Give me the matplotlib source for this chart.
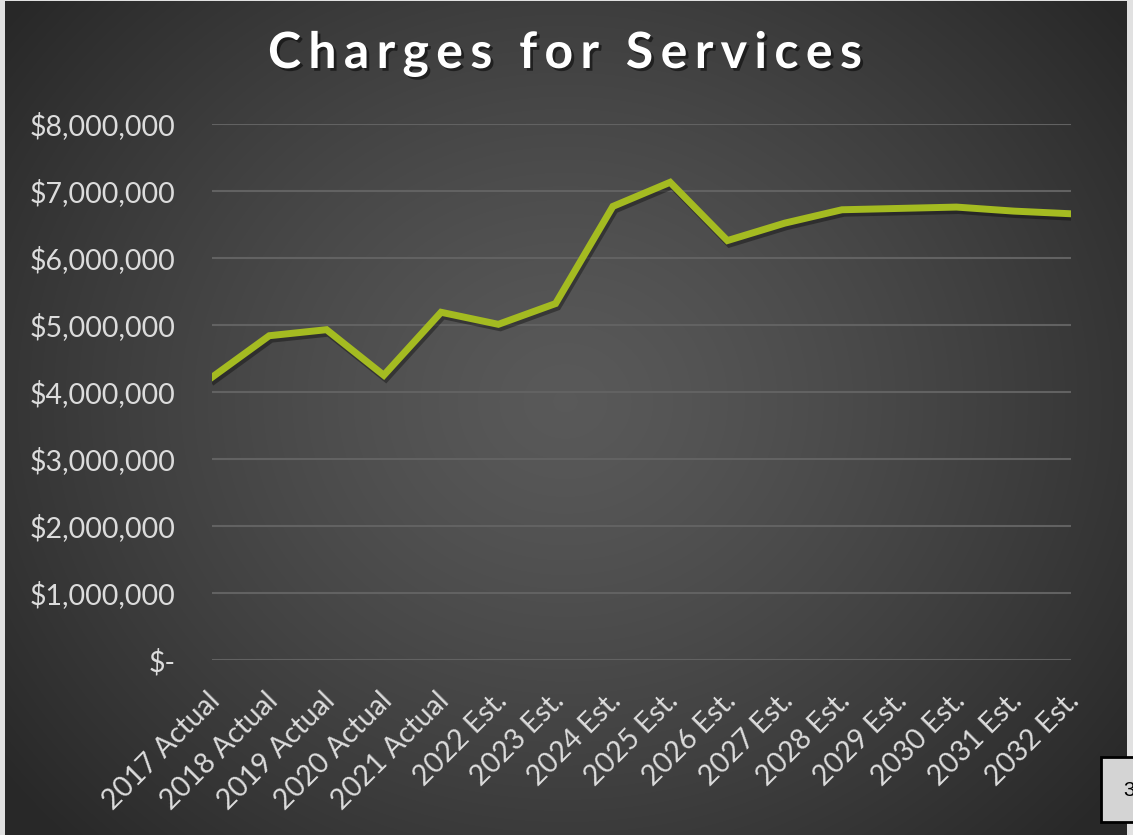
import numpy as np
import matplotlib.pyplot as plt
import matplotlib.patheffects as pe
import matplotlib.transforms as mtransforms
from matplotlib.patches import Rectangle
from matplotlib.ticker import FuncFormatter

years = ['2017 Actual', '2018 Actual', '2019 Actual', '2020 Actual', '2021 Actual',
         '2022 Est.', '2023 Est.', '2024 Est.', '2025 Est.', '2026 Est.',
         '2027 Est.', '2028 Est.', '2029 Est.', '2030 Est.', '2031 Est.', '2032 Est.']
charges = [4220000, 4840000, 4930000, 4250000, 5190000,
           5010000, 5320000, 6770000, 7130000, 6260000,
           6520000, 6720000, 6740000, 6760000, 6700000, 6660000]
title = 'Charges for Services'

plt.rcParams['font.family'] = ['Lato', 'DejaVu Sans']

W, H = 1133, 835
fig = plt.figure(figsize=(W / 100, H / 100), dpi=100)
fig.patch.set_facecolor('#e1e1e1')

# dark slide background with a soft radial glow
bg = fig.add_axes([5 / W, 0, 1122 / W, 834 / H])
yy, xx = np.mgrid[0:834, 0:1122]
r = np.sqrt(((xx - 560) / 700.0) ** 2 + ((yy - 400) / 620.0) ** 2)
shade = 0.35 - 0.19 * np.clip(r, 0, 1) ** 1.3
bg.imshow(np.dstack([shade] * 3), aspect='auto', interpolation='bilinear')
bg.axis('off')

ax = fig.add_axes([212 / W, 1 - 660 / H, 859 / W, 536 / H])
ax.patch.set_alpha(0)
x = np.arange(len(years))
ax.plot(x, charges, color='#a4bb21', lw=5, solid_joinstyle='miter',
        path_effects=[pe.SimpleLineShadow(offset=(1.5, -2.5), shadow_color='black', alpha=0.35),
                      pe.Normal()], zorder=3)

ax.set_xlim(0, len(years) - 1)
ax.set_ylim(0, 8000000)
ax.set_yticks(np.arange(0, 8000001, 1000000))
ax.yaxis.set_major_formatter(FuncFormatter(lambda v, p: '$-' if v == 0 else f'${v:,.0f}'))
ax.grid(axis='y', color='#626262', lw=1.5)
ax.set_axisbelow(True)
for s in ax.spines.values():
    s.set_visible(False)
ax.tick_params(axis='y', length=0, pad=26.5, labelsize=20.5, labelcolor='#dcdcdc')
ax.tick_params(axis='x', length=0, pad=20, labelsize=20.5, labelcolor='#dcdcdc')
ax.set_xticks(x)
ax.set_xticklabels(years, rotation=45, ha='right', va='top', rotation_mode='anchor')
shift = mtransforms.ScaledTranslation(-5 / 100, 0, fig.dpi_scale_trans)
for lab in ax.get_xticklabels():
    lab.set_transform(lab.get_transform() + shift)

# title drawn letter by letter to get the wide tracking
renderer = fig.canvas.get_renderer()
tkw = dict(fontsize=36, fontweight='bold', color='white', va='baseline', ha='left')


def text_width(s):
    t = fig.text(0, 0, s, **tkw)
    w = t.get_window_extent(renderer).width
    t.remove()
    return w


ref_w = text_width('I')
adv = [text_width(title[:i] + 'I') - ref_w if i else 0.0 for i in range(len(title) + 1)]
left, right = 268, 862
track = (right - left - adv[-1]) / (len(title) - 1)
shadow = [pe.withSimplePatchShadow(offset=(2, -2), shadow_rgbFace='black', alpha=0.5)]
for i, ch in enumerate(title):
    if ch == ' ':
        continue
    fig.text((left + adv[i] + i * track) / W, 1 - 68 / H, ch, path_effects=shadow, **tkw)

# slide number box
fig.patches.append(Rectangle((1101 / W, 13 / H), 40 / W, 65 / H, transform=fig.transFigure,
                             facecolor='#d4d4d4', edgecolor='black', lw=2, clip_on=False))
fig.text(1123 / W, 1 - 790 / H, '3', ha='left', va='center', fontsize=15, color='black',
         family=['Liberation Sans'])

fig.savefig('out.png', dpi=100)
